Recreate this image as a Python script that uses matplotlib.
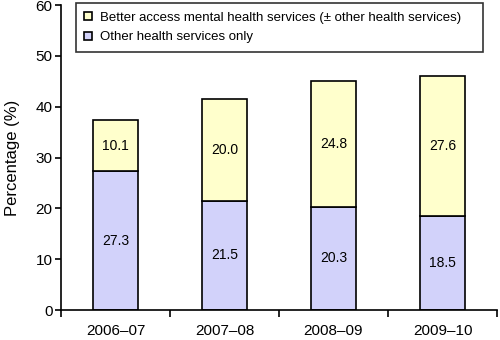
import matplotlib
matplotlib.use("Agg")
import matplotlib.pyplot as plt
import numpy as np

plt.rcParams['font.family'] = ['Liberation Sans', 'DejaVu Sans']

categories = ["2006–07", "2007–08", "2008–09", "2009–10"]
other_only = [27.3, 21.5, 20.3, 18.5]
better_access = [10.1, 20.0, 24.8, 27.6]
labels = ["Better access mental health services (± other health services)",
          "Other health services only"]

fig = plt.figure(figsize=(5, 3.4), dpi=100)
ax = fig.add_axes([0.122, 0.088, 0.872, 0.897])

x = np.arange(len(categories))
w = 0.42
b1 = ax.bar(x, other_only, w, color="#D2D2FA", edgecolor="black", linewidth=1.2, label=labels[1])
b2 = ax.bar(x, better_access, w, bottom=other_only, color="#FFFFCC", edgecolor="black", linewidth=1.2, label=labels[0])

for i in range(len(categories)):
    ax.text(x[i], other_only[i] / 2, f"{other_only[i]:.1f}", ha="center", va="center", fontsize=10)
    ax.text(x[i], other_only[i] + better_access[i] / 2, f"{better_access[i]:.1f}", ha="center", va="center", fontsize=10)

ax.set_xlim(-0.5, len(categories) - 0.5)
ax.set_ylim(0, 60)
ax.set_yticks(range(0, 61, 10))
ax.set_xticks(x)
ax.set_xticklabels(categories, fontsize=11)
ax.tick_params(axis='x', which='major', length=0, pad=10)
ax.set_xticks(np.arange(-0.5, len(categories), 1), minor=True)
ax.tick_params(axis='x', which='minor', length=5, width=1.2, direction='out')
ax.tick_params(axis='y', length=4, width=1.2, direction='out', labelsize=11, pad=2)
ax.set_ylabel("Percentage (%)", fontsize=12, labelpad=11)

for s in ['top', 'right']:
    ax.spines[s].set_visible(False)
for s in ['left', 'bottom']:
    ax.spines[s].set_linewidth(1.2)

leg = ax.legend(handles=[b2, b1], labels=labels, loc='upper left', mode='expand',
                bbox_to_anchor=(0.034, 0.5, 0.933, 0.507), fontsize=9.5, frameon=True, fancybox=False,
                edgecolor='black', handlelength=0.6, handleheight=0.6,
                borderpad=0.65, labelspacing=0.6, handletextpad=0.6, borderaxespad=0)
leg.get_frame().set_linewidth(1.2)

fig.savefig("out.png", dpi=100)
